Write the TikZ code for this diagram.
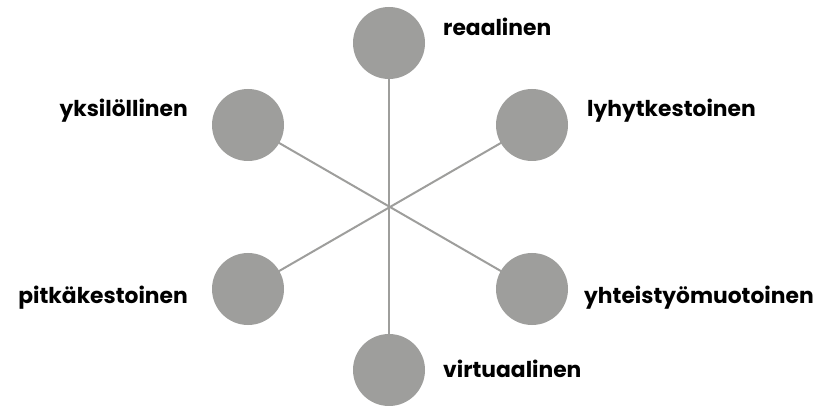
\documentclass[tikz,border=0pt]{standalone}
\usepackage{fontspec}
\setmainfont{Poppins}
\usetikzlibrary{backgrounds}
\definecolor{dotgray}{HTML}{9E9E9C}
\begin{document}
\begin{tikzpicture}[x=1pt,y=-1pt,
  dot/.style={circle,fill=dotgray,minimum size=72pt,inner sep=0pt},
  lbl/.style={font=\fontsize{21.8}{24}\selectfont\bfseries,inner sep=0pt,text=black},
  spoke/.style={draw=dotgray,line width=2pt}]
\useasboundingbox (0,0) rectangle (825,406);
\node[dot] (t) at (389,43) {};
\node[dot] (b) at (389,370) {};
\node[dot] (ul) at (248,125) {};
\node[dot] (ur) at (532,125) {};
\node[dot] (ll) at (248,289) {};
\node[dot] (lr) at (532,289) {};
\begin{scope}[on background layer]
\draw[spoke] (t.center) -- (b.center);
\draw[spoke] (ul.center) -- (lr.center);
\draw[spoke] (ll.center) -- (ur.center);
\end{scope}
\node[lbl,anchor=base west] (lt) at (443,36) {reaalinen};
\node[lbl,anchor=base west] (lur) at (587,117) {lyhytkestoinen};
\node[lbl,anchor=base east] (lul) at (188,117) {yksilöllinen};
\node[lbl,anchor=base west] (llr) at (584,303) {yhteistyömuotoinen};
\node[lbl,anchor=base east] (lll) at (188,304) {pitkäkestoinen};
\node[lbl,anchor=base west] (lb) at (443,377) {virtuaalinen};
\end{tikzpicture}
\end{document}
